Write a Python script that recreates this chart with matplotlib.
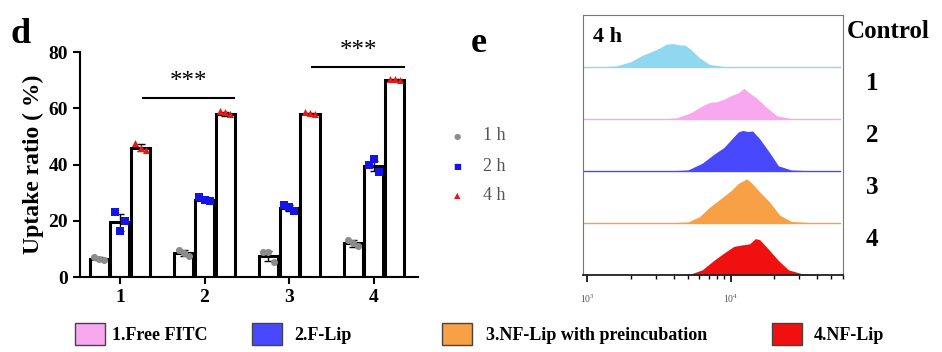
import numpy as np
import matplotlib.pyplot as plt
from matplotlib.patches import Rectangle
from matplotlib.ticker import LogLocator, NullFormatter

plt.rcParams['font.family'] = ['Liberation Serif', 'DejaVu Serif']

# ---- panel d data ----
groups = [1, 2, 3, 4]
times = ['1 h', '2 h', '4 h']
mean_1h = [6.5, 8.5, 7.5, 12.0]
mean_2h = [19.5, 27.5, 24.5, 39.5]
mean_4h = [46.0, 58.0, 58.0, 70.0]
sd_1h = [0.5, 1.2, 1.8, 1.2]
sd_2h = [3.0, 0.8, 1.0, 1.8]
sd_4h = [1.3, 0.6, 0.3, 0.3]
pts_1h = [[7.0, 6.5, 6.2], [9.5, 8.5, 7.5], [9.0, 8.8, 5.5], [13.0, 12.0, 11.0]]
pts_2h = [[23.0, 16.5, 20.0], [28.5, 27.5, 27.0], [25.5, 25.0, 23.5], [40.0, 42.0, 37.5]]
pts_4h = [[47.5, 46.0, 45.0], [59.0, 58.5, 58.0], [58.5, 58.3, 58.0], [70.5, 70.3, 70.0]]
sig_pairs = [(1.27, 2.35, 63.5), (3.27, 4.36, 74.5)]

# ---- panel e data (log10 intensity vs relative count) ----
hist_names = ['Control', '1', '2', '3', '4']
hist_colors = ['#8fd8ef', '#f8a8ee', '#4848ff', '#f8a045', '#f01010']
ctrl_x = [3.05, 3.2, 3.3, 3.38, 3.45, 3.5, 3.55, 3.6, 3.63, 3.68, 3.72, 3.78, 3.85, 3.95, 4.2]
ctrl_y = [0.0, 0.02, 0.10, 0.22, 0.30, 0.36, 0.44, 0.45, 0.43, 0.42, 0.34, 0.18, 0.05, 0.01, 0.0]
fitc_x = [3.5, 3.62, 3.72, 3.8, 3.85, 3.9, 3.95, 4.0, 4.05, 4.09, 4.12, 4.18, 4.25, 4.32, 4.42, 4.6]
fitc_y = [0.0, 0.02, 0.12, 0.25, 0.32, 0.33, 0.38, 0.45, 0.50, 0.59, 0.52, 0.40, 0.22, 0.06, 0.01, 0.0]
flip_x = [3.55, 3.7, 3.8, 3.88, 3.95, 4.0, 4.05, 4.08, 4.12, 4.15, 4.2, 4.27, 4.33, 4.42, 4.6]
flip_y = [0.0, 0.02, 0.15, 0.32, 0.45, 0.60, 0.75, 0.78, 0.76, 0.77, 0.62, 0.35, 0.10, 0.02, 0.0]
nfpre_x = [3.55, 3.7, 3.78, 3.85, 3.92, 4.0, 4.05, 4.09, 4.11, 4.14, 4.2, 4.27, 4.34, 4.42, 4.6]
nfpre_y = [0.0, 0.02, 0.12, 0.30, 0.45, 0.62, 0.76, 0.82, 0.85, 0.78, 0.60, 0.40, 0.15, 0.03, 0.0]
nf_x = [3.6, 3.72, 3.8, 3.88, 3.95, 4.02, 4.08, 4.13, 4.17, 4.2, 4.26, 4.33, 4.4, 4.5, 4.65]
nf_y = [0.0, 0.02, 0.10, 0.28, 0.42, 0.55, 0.58, 0.60, 0.70, 0.68, 0.50, 0.28, 0.10, 0.02, 0.0]
hist_x = [ctrl_x, fitc_x, flip_x, nfpre_x, nf_x]
hist_y = [ctrl_y, fitc_y, flip_y, nfpre_y, nf_y]

legend_labels = ['1.Free FITC', '2.F-Lip', '3.NF-Lip with preincubation', '4.NF-Lip']

W, H = 942, 352
fig = plt.figure(figsize=(W / 100, H / 100), dpi=100)


def frac(x0, y0, x1, y1):
    return [x0 / W, 1 - y1 / H, (x1 - x0) / W, (y1 - y0) / H]


# ---------------- panel d ----------------
ax = fig.add_axes(frac(80, 52, 418, 277))
x = np.array(groups, dtype=float)
off = 0.245
bw = 0.225
means = [mean_1h, mean_2h, mean_4h]
sds = [sd_1h, sd_2h, sd_4h]
pts = [pts_1h, pts_2h, pts_4h]
mk = ['o', 's', '^']
mcol = ['#8c8c8c', '#1414e6', '#ee1515']
for k in range(3):
    xs = x + (k - 1) * off
    ax.bar(xs, means[k], width=bw, color='white', edgecolor='black', linewidth=2.2, zorder=2)
    ax.errorbar(xs, means[k], yerr=sds[k], fmt='none', ecolor='black', elinewidth=1,
                capsize=3, zorder=3)
    for i in range(4):
        ax.scatter(xs[i] + np.array([-0.06, 0.0, 0.06]), pts[k][i], marker=mk[k], s=26,
                   color=mcol[k], zorder=4, linewidths=0)

for x0, x1, y in sig_pairs:
    ax.plot([x0, x1], [y, y], color='black', lw=1.5, clip_on=False)
    ax.text((x0 + x1) / 2, y + 2.0, '***', ha='center', va='bottom', fontsize=18)

ax.set_xlim(0.53, 4.52)
ax.set_ylim(0, 80)
ax.set_yticks([0, 20, 40, 60, 80])
ax.set_xticks(groups)
for s in ['top', 'right']:
    ax.spines[s].set_visible(False)
for s in ['left', 'bottom']:
    ax.spines[s].set_linewidth(1.5)
ax.tick_params(width=1.5, length=5, labelsize=14)
for lab in ax.get_xticklabels() + ax.get_yticklabels():
    lab.set_fontweight('bold')
ax.set_ylabel('Uptake ratio ( %)', fontsize=17, fontweight='bold', labelpad=3)

fig.text(10 / W, 1 - 43 / H, 'd', fontsize=26, fontweight='bold', va='baseline')

# legend for time points
for k in range(3):
    yy = 1 - (136 + 30 * k) / H
    fig.text(457 / W, yy, {'o': '\u25cf', 's': '\u25a0', '^': '\u25b2'}[mk[k]],
             color=mcol[k], fontsize=6, ha='center', va='center', family='DejaVu Sans')
    fig.text(483 / W, yy, times[k], color='#555555', fontsize=13, va='center')

fig.text(471 / W, 1 - 52 / H, 'e', fontsize=26, fontweight='bold', va='baseline')

# ---------------- panel e ----------------
ae = fig.add_axes(frac(583, 15, 843, 275))
for j in range(5):
    base = 4 - j
    xv = 10 ** np.array(hist_x[j])
    yv = base + np.array(hist_y[j])
    ae.fill_between(xv, base, yv, color=hist_colors[j], lw=0)
    ae.plot([10 ** 2.97, 10 ** 4.76], [base, base], color=hist_colors[j], lw=1)
ae.set_xscale('log')
ae.set_xlim(10 ** 2.97, 10 ** 4.78)
ae.set_ylim(0, 5)
ae.set_yticks([])
for s in ['top', 'right', 'left']:
    ae.spines[s].set_color('#777777')
ae.spines['bottom'].set_color('#222222')
ae.spines['bottom'].set_linewidth(1.3)
ae.xaxis.set_major_locator(LogLocator(base=10, numticks=5))
ae.xaxis.set_minor_locator(LogLocator(base=10, subs=np.arange(2, 10), numticks=10))
ae.xaxis.set_minor_formatter(NullFormatter())
ae.tick_params(axis='x', which='major', length=5, width=1.2, labelsize=7, labelcolor='#555555',
               pad=8)
ae.tick_params(axis='x', which='minor', length=3, width=1)
ae.text(0.04, 0.955, '4 h', transform=ae.transAxes, fontsize=16, fontweight='bold',
        va='top')

label_y = [32, 84, 136, 188, 240]
for j, name in enumerate(hist_names):
    xx = 847 if j == 0 else 872
    fig.text(xx / W, 1 - label_y[j] / H, name, fontsize=18, fontweight='bold',
             va='center', ha='left' if j == 0 else 'center')

# bottom legend
patch_x = [75, 252, 442, 772]
text_x = [112, 294, 486, 814]
for j in range(4):
    fig.patches.append(Rectangle((patch_x[j] / W, 1 - 345 / H), 30 / W, 22 / H,
                                 transform=fig.transFigure, facecolor=hist_colors[j + 1],
                                 edgecolor='#444444', lw=1))
    fig.text(text_x[j] / W, 1 - 336 / H, legend_labels[j], fontsize=13, fontweight='bold',
             va='center')

fig.savefig('out.png', dpi=100)
